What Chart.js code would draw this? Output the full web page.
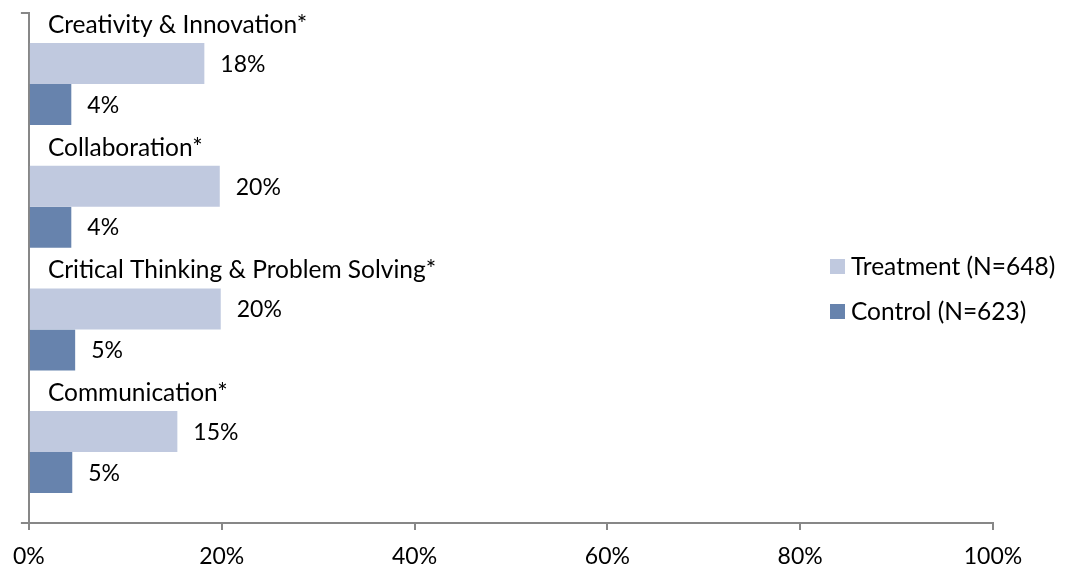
<!DOCTYPE html>
<html>
<head>
<meta charset="utf-8">
<script src="https://cdn.jsdelivr.net/npm/chart.js@4/dist/chart.umd.min.js"></script>
<style>
  html, body { margin: 0; padding: 0; background: #fff; }
  #wrap { position: relative; width: 1070px; height: 572px; }
  #legend { position: absolute; left: 830px; top: 251px; font-family: Lato, 'DejaVu Sans', sans-serif; font-size: 24.5px; color: #000; }
  #legend div { height: 45px; display: flex; align-items: flex-start; }
  #legend span.box { display: inline-block; width: 15px; height: 15px; margin: 8px 6px 0 0; }
</style>
</head>
<body>
<div id="wrap">
  <canvas id="myChart" width="1070" height="572"></canvas>
  <div id="legend"></div>
</div>
<script>
const categories = ['Creativity & Innovation*', 'Collaboration*', 'Critical Thinking & Problem Solving*', 'Communication*'];
const treatment = [18.2, 19.8, 19.9, 15.4];
const control = [4.4, 4.4, 4.8, 4.5];
const seriesNames = ['Treatment (N=648)', 'Control (N=623)'];
const xTicks = [0, 20, 40, 60, 80, 100];

const FONT = 'Lato, "DejaVu Sans", sans-serif';
const CAT_SIZE = 24.5;
const VAL_SIZE = 23;
const axisGray = '#878787';

// libellés de catégorie au-dessus des barres + valeurs à droite des barres
const labelPlugin = {
  id: 'barLabels',
  afterDatasetsDraw(chart) {
    const ctx = chart.ctx;
    ctx.save();
    ctx.fillStyle = '#000';
    ctx.textAlign = 'left';
    ctx.textBaseline = 'alphabetic';
    chart.data.datasets.forEach((ds, di) => {
      chart.getDatasetMeta(di).data.forEach((bar, i) => {
        const v = ds.data[i].x;
        ctx.font = VAL_SIZE + 'px ' + FONT;
        ctx.fillText(Math.round(v) + '%', bar.x + 16, bar.y + VAL_SIZE * 0.36);
        if (di === 0) {
          const top = bar.y - bar.height / 2;
          ctx.font = CAT_SIZE + 'px ' + FONT;
          ctx.fillText(categories[i], chart.chartArea.left + 19, top - 10);
        }
      });
    });
    ctx.restore();
  }
};

const ctx = document.getElementById('myChart').getContext('2d');
const colors = ['#c0c9df', '#6783ad'];

const myChart = new Chart(ctx, {
  type: 'bar',
  data: {
    datasets: [
      {
        label: seriesNames[0],
        data: treatment.map((v, i) => ({ x: v, y: i })),
        backgroundColor: colors[0]
      },
      {
        label: seriesNames[1],
        data: control.map((v, i) => ({ x: v, y: i })),
        backgroundColor: colors[1]
      }
    ]
  },
  options: {
    indexAxis: 'y',
    responsive: false,
    animation: false,
    layout: { padding: { top: 13, right: 77, left: 0, bottom: 0 } },
    datasets: { bar: { categoryPercentage: 0.668, barPercentage: 1 } },
    plugins: {
      legend: { display: false },
      tooltip: { enabled: false }
    },
    scales: {
      x: {
        type: 'linear',
        min: 0,
        max: 100,
        afterBuildTicks: s => { s.ticks = xTicks.map(v => ({ value: v })); },
        afterFit: s => { s.height = 49; },
        ticks: {
          callback: v => v + '%',
          font: { family: FONT, size: VAL_SIZE },
          color: '#000',
          padding: 13,
          maxRotation: 0
        },
        grid: { drawOnChartArea: false, drawTicks: true, tickLength: 7, color: axisGray, lineWidth: 2 },
        border: { display: true, color: axisGray, width: 2 }
      },
      y: {
        type: 'linear',
        reverse: true,
        offset: false,
        min: -0.579,
        max: 3.578,
        afterBuildTicks: s => { s.ticks = [{ value: s.min }, { value: s.max }]; },
        afterFit: s => { s.width = 28; },
        ticks: { display: false },
        grid: { offset: false, drawOnChartArea: false, drawTicks: true, tickLength: 8, color: axisGray, lineWidth: 2 },
        border: { display: true, color: axisGray, width: 2 }
      }
    }
  },
  plugins: [labelPlugin]
});

// légende à droite, dans la zone du graphique
const legendEl = document.getElementById('legend');
myChart.data.datasets.forEach(ds => {
  const row = document.createElement('div');
  const box = document.createElement('span');
  box.className = 'box';
  box.style.background = ds.backgroundColor;
  row.appendChild(box);
  row.appendChild(document.createTextNode(ds.label));
  legendEl.appendChild(row);
});
</script>
</body>
</html>
